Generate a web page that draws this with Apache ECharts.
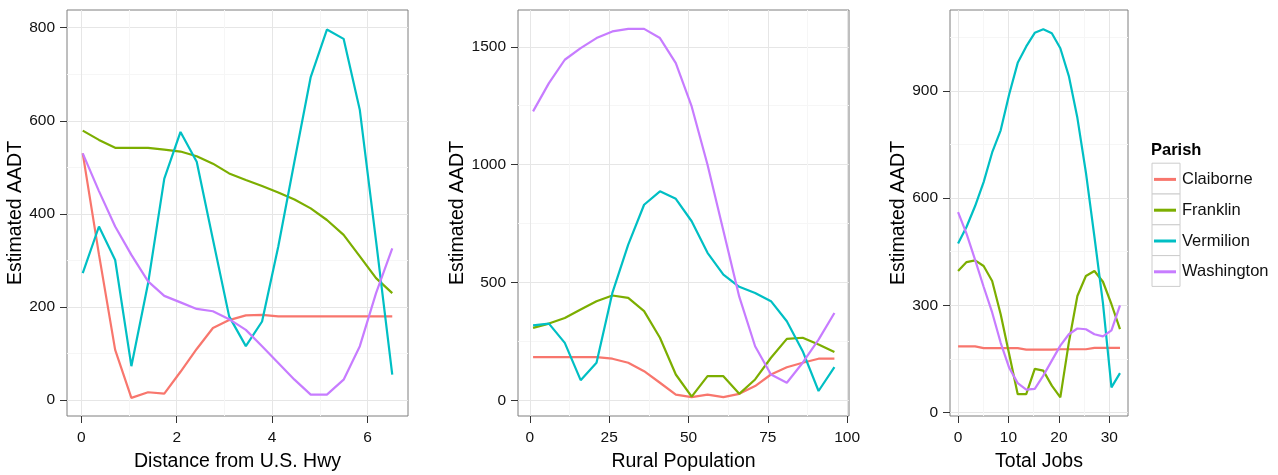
<!DOCTYPE html>
<html><head><meta charset="utf-8">
<script src="https://cdn.jsdelivr.net/npm/echarts@6/dist/echarts.min.js"></script>
<style>html,body{margin:0;padding:0;background:#fff}#c{width:1278px;height:475px}</style>
</head><body><div id="c"></div>
<script>
const parishes = ['Claiborne', 'Franklin', 'Vermilion', 'Washington'];

// Panel 1: Distance from U.S. Hwy
const xDist = [0.03,0.37,0.71,1.05,1.40,1.74,2.08,2.42,2.76,3.10,3.45,3.79,4.13,4.47,4.81,5.15,5.50,5.84,6.18,6.52];
const distClaiborne  = [530,313,108,5,17,14,61,110,155,172,182,183,180,180,180,180,180,180,180,180];
const distFranklin   = [579,559,542,542,542,538,534,524,508,487,473,460,446,431,412,387,355,309,262,230];
const distVermilion  = [273,373,301,73,251,476,576,512,345,180,116,169,330,513,694,796,776,623,342,55];
const distWashington = [530,449,373,312,255,224,210,196,191,174,151,116,80,44,12,12,44,116,230,326];

// Panel 2: Rural Population
const xRural = [1,6,11,16,21,26,31,36,41,46,51,56,61,66,71,76,81,86,91,96];
const ruralClaiborne  = [184,184,184,184,184,177,160,124,75,25,14,25,14,28,61,110,141,160,177,177];
const ruralFranklin   = [308,326,350,386,421,445,435,379,266,110,16,103,103,28,89,181,261,266,237,205];
const ruralVermilion  = [318,326,244,86,160,456,661,830,887,855,760,626,534,482,456,421,336,209,40,141];
const ruralWashington = [1226,1346,1445,1494,1537,1565,1576,1576,1537,1431,1247,1000,720,440,230,110,75,160,258,371];

// Panel 3: Total Jobs
const xJobs = [0,1.69,3.38,5.07,6.76,8.45,10.14,11.83,13.52,15.21,16.9,18.59,20.28,21.97,23.66,25.35,27.04,28.73,30.42,32.11];
const jobsClaiborne  = [185,185,185,180,180,180,180,180,176,176,176,176,177,177,177,177,181,181,181,181];
const jobsFranklin   = [396,421,426,410,368,275,163,51,51,122,117,75,42,196,326,382,396,366,303,233];
const jobsVermilion  = [473,520,578,645,728,790,891,979,1025,1063,1073,1062,1020,942,825,672,492,306,70,110];
const jobsWashington = [561,500,427,352,280,195,125,82,64,66,103,145,187,219,235,233,219,213,230,300];

// Tick labels
const distXTicks = [0,2,4,6];
const distYTicks = [0,200,400,600,800];
const ruralXTicks = [0,25,50,75,100];
const ruralYTicks = [0,500,1000,1500];
const jobsXTicks = [0,10,20,30];
const jobsYTicks = [0,300,600,900];
const distXMinor = [1,3,5];
const distYMinor = [100,300,500,700];
const ruralXMinor = [12.5,37.5,62.5,87.5];
const ruralYMinor = [250,750,1250];
const jobsXMinor = [5,15,25];
const jobsYMinor = [150,450,750,1050];

const xTitles = ['Distance from U.S. Hwy', 'Rural Population', 'Total Jobs'];
const yTitle = 'Estimated AADT';

const colors = ['#F8766D', '#7CAE00', '#00BFC4', '#C77CFF'];
const FONT = '"Liberation Sans", Arial, sans-serif';

const panels = [
  {x: xDist, ys: [distClaiborne, distFranklin, distVermilion, distWashington],
   xr: [-0.3, 6.85], yr: [-34, 838], xt: distXTicks, yt: distYTicks, xm: distXMinor, ym: distYMinor,
   grid: {left: 67, top: 10, width: 341, height: 406}, yGap: 36},
  {x: xRural, ys: [ruralClaiborne, ruralFranklin, ruralVermilion, ruralWashington],
   xr: [-3.75, 100.6], yr: [-66, 1656], xt: ruralXTicks, yt: ruralYTicks, xm: ruralXMinor, ym: ruralYMinor,
   grid: {left: 518, top: 10, width: 331, height: 406}, yGap: 41},
  {x: xJobs, ys: [jobsClaiborne, jobsFranklin, jobsVermilion, jobsWashington],
   xr: [-1.6, 33.7], yr: [-10, 1127], xt: jobsXTicks, yt: jobsYTicks, xm: jobsXMinor, ym: jobsYMinor,
   grid: {left: 950, top: 10, width: 178, height: 406}, yGap: 37}
];

const grids = [], xAxes = [], yAxes = [], series = [];
panels.forEach((p, i) => {
  grids.push(Object.assign({show: true, borderColor: '#7F7F7F', borderWidth: 1, backgroundColor: '#fff',
    containLabel: false, outerBoundsMode: 'none'}, p.grid));
  const mainAxis = (min, max, ticks, name, gap, margin) => ({
    type: 'value', gridIndex: i, min: min, max: max,
    name: name, nameLocation: 'middle', nameGap: gap,
    nameTextStyle: {fontSize: 19.5, color: '#000', fontFamily: FONT},
    axisLine: {show: false, onZero: false},
    axisTick: {show: true, length: 7, lineStyle: {color: '#333'}, customValues: ticks},
    axisLabel: {customValues: ticks, fontSize: 15.5, color: '#111', fontFamily: FONT, margin: margin,
      formatter: v => String(v)},
    splitLine: {show: true, lineStyle: {color: '#E6E6E6', width: 1}}
  });
  const minorAxis = (min, max, ticks) => ({
    type: 'value', gridIndex: i, min: min, max: max,
    axisLine: {show: false, onZero: false},
    axisTick: {show: false, customValues: ticks},
    axisLabel: {show: false, customValues: ticks},
    splitLine: {show: true, lineStyle: {color: '#F6F6F6', width: 1}}
  });
  xAxes[i] = mainAxis(p.xr[0], p.xr[1], p.xt, xTitles[i], 36, 14);
  yAxes[i] = mainAxis(p.yr[0], p.yr[1], p.yt, yTitle, p.yGap, 12);
  xAxes[3 + i] = minorAxis(p.xr[0], p.xr[1], p.xm);
  yAxes[3 + i] = minorAxis(p.yr[0], p.yr[1], p.ym);
  p.ys.forEach((vals, k) => {
    series.push({
      type: 'line', name: parishes[k], xAxisIndex: i, yAxisIndex: i,
      data: p.x.map((xv, j) => [xv, vals[j]]),
      showSymbol: false, symbol: 'none', smooth: false,
      lineStyle: {color: colors[k], width: 2.2},
      itemStyle: {color: colors[k]},
      emphasis: {disabled: true}, z: 3
    });
  });
});

const keyBoxes = parishes.map((n, k) => ({
  type: 'rect', left: 1151.5, top: 162.7 + 30.8 * k,
  shape: {width: 28, height: 30.8},
  style: {fill: '#fff', stroke: '#CCCCCC', lineWidth: 1}, z: 0
}));

const chart = echarts.init(document.getElementById('c'), null, {renderer: 'canvas'});
chart.setOption({
  animation: false,
  backgroundColor: '#fff',
  title: {text: 'Parish', left: 1151, top: 142, padding: 0,
    textStyle: {fontSize: 16.5, fontWeight: 'bold', color: '#000', fontFamily: FONT}},
  legend: {
    data: parishes, orient: 'vertical', left: 1154, top: 164, padding: 0,
    itemGap: 0, itemWidth: 22, itemHeight: 3, icon: 'rect',
    textStyle: {fontSize: 16.5, color: '#111', fontFamily: FONT, lineHeight: 30.8, padding: [0, 0, 0, 1]},
    selectedMode: false, z: 5
  },
  graphic: keyBoxes,
  grid: grids,
  xAxis: xAxes,
  yAxis: yAxes,
  series: series
});
</script></body></html>
